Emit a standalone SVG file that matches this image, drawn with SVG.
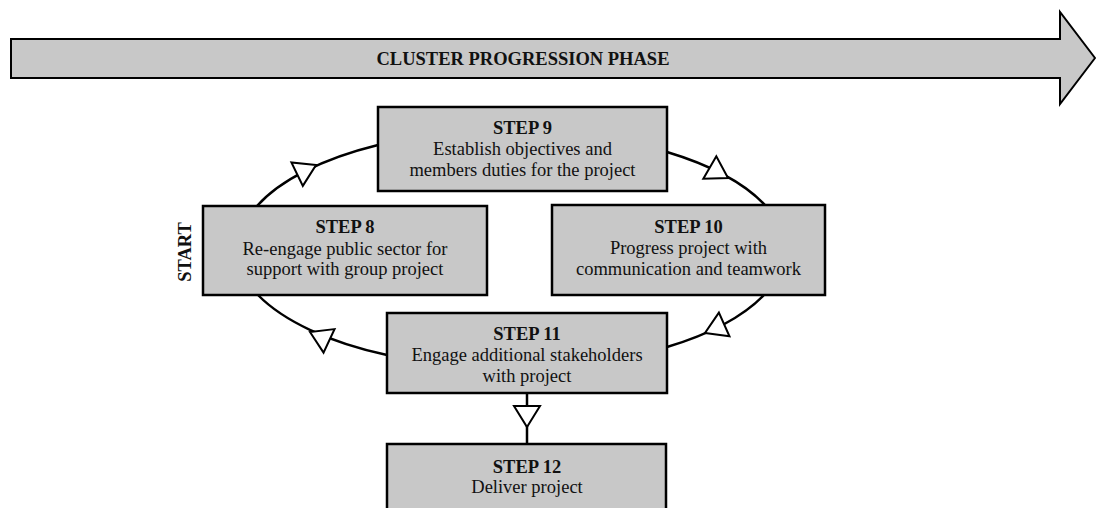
<svg xmlns="http://www.w3.org/2000/svg" width="1096" height="508" viewBox="0 0 1096 508">
  <style>
    .box { fill: #c8c8c8; stroke: #000; stroke-width: 2.5; }
    .banner { fill: #c8c8c8; stroke: #000; stroke-width: 2; stroke-linejoin: miter; }
    .head { font-family: "Liberation Serif", "Times New Roman", serif; font-size: 18.5px; font-weight: bold; fill: #111; text-anchor: middle; }
    .body { font-family: "Liberation Serif", "Times New Roman", serif; font-size: 18.5px; fill: #111; text-anchor: middle; }
    .link { fill: none; stroke: #000; stroke-width: 2.5; }
    .tri { fill: #fff; stroke: #000; stroke-width: 2; stroke-linejoin: miter; }
  </style>
  <defs>
    <!-- hollow arrowhead, tip at origin, pointing along +x -->
    <polygon id="tri" class="tri" points="0,0 -21,-13 -21,13"/>
  </defs>

  <rect width="1096" height="508" fill="#fff"/>

  <!-- phase banner -->
  <g id="phase">
    <polygon class="banner" points="11,39 1060,39 1060,12 1095,58 1060,104 1060,78 11,78"/>
    <text class="head" x="523" y="65">CLUSTER PROGRESSION PHASE</text>
  </g>

  <!-- connectors: cycle arcs on one ellipse (c 511,250  r 273x120) plus the exit link -->
  <g id="connectors">
    <path class="link" d="M257,206 A273,120 0 0 1 378,145"/>
    <path class="link" d="M667,152 A273,120 0 0 1 765,205"/>
    <path class="link" d="M764,295 A273,120 0 0 1 667,347"/>
    <path class="link" d="M387,355 A273,120 0 0 1 258,295"/>
    <line class="link" x1="527" y1="393" x2="527" y2="444"/>
    <use href="#tri" transform="translate(316,165) rotate(-26)"/>
    <use href="#tri" transform="translate(728,178) rotate(30)"/>
    <use href="#tri" transform="translate(705,333) rotate(156)"/>
    <use href="#tri" transform="translate(310,332) rotate(-155)"/>
    <use href="#tri" transform="translate(527,427) rotate(90)"/>
  </g>

  <text class="head" transform="translate(191,252) rotate(-90)" x="0" y="0">START</text>

  <g id="step9">
    <rect class="box" x="378" y="107" width="289" height="84"/>
    <text class="head" x="522.5" y="134">STEP 9</text>
    <text class="body" x="522.5" y="155">Establish objectives and</text>
    <text class="body" x="522.5" y="175.5">members duties for the project</text>
  </g>

  <g id="step8">
    <rect class="box" x="203" y="206" width="284" height="89"/>
    <text class="head" x="345" y="233">STEP 8</text>
    <text class="body" x="345" y="254.5">Re-engage public sector for</text>
    <text class="body" x="345" y="275">support with group project</text>
  </g>

  <g id="step10">
    <rect class="box" x="552" y="205" width="273" height="90"/>
    <text class="head" x="688.5" y="233">STEP 10</text>
    <text class="body" x="688.5" y="254">Progress project with</text>
    <text class="body" x="688.5" y="275">communication and teamwork</text>
  </g>

  <g id="step11">
    <rect class="box" x="387" y="313" width="280" height="80"/>
    <text class="head" x="527" y="340">STEP 11</text>
    <text class="body" x="527" y="361">Engage additional stakeholders</text>
    <text class="body" x="527" y="382">with project</text>
  </g>

  <g id="step12">
    <rect class="box" x="387" y="444" width="279" height="80"/>
    <text class="head" x="527" y="473">STEP 12</text>
    <text class="body" x="527" y="493">Deliver project</text>
  </g>
</svg>
